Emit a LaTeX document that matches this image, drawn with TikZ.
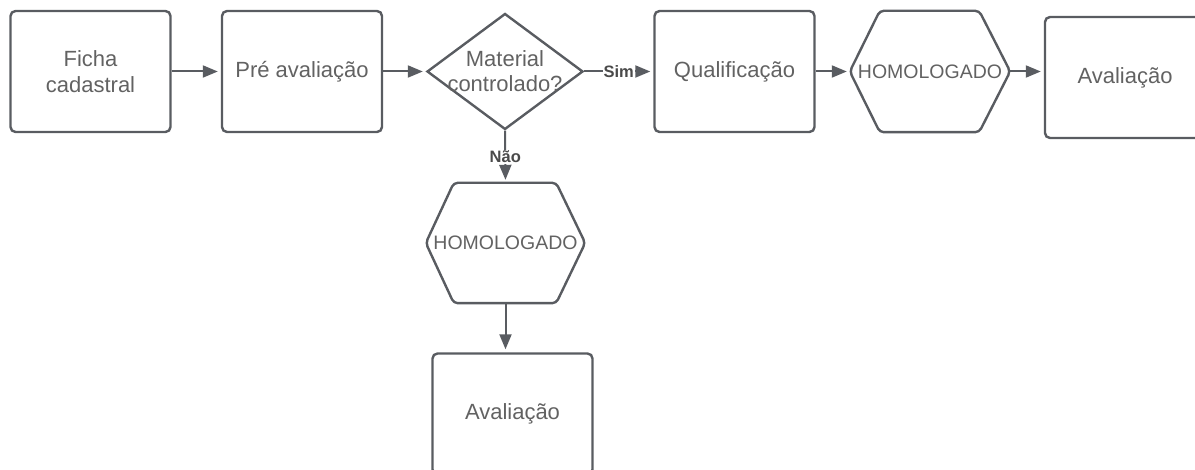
\documentclass[tikz,border=0pt]{standalone}
\usepackage{fontspec}
\setmainfont{Liberation Sans}
\usetikzlibrary{arrows.meta,shapes.geometric}
\definecolor{linegray}{HTML}{595C61}
\definecolor{textgray}{HTML}{626262}
\definecolor{labelgray}{HTML}{4A4A4A}
\begin{document}
\begin{tikzpicture}[x=1pt,y=-1pt,
  box/.style={draw=linegray,line width=2.4pt,rounded corners=5pt,minimum width=160pt,minimum height=121pt,
    align=center,text=textgray,font=\fontsize{22}{26}\selectfont},
  decision/.style={draw=linegray,line width=2.4pt,diamond,minimum width=156pt,minimum height=116pt,inner sep=0pt},
  hexbox/.style={minimum width=160pt,minimum height=121pt,inner sep=0pt,text=textgray,
    font=\fontsize{19.5}{23}\selectfont},
  outline/.style={draw=linegray,line width=2.4pt,rounded corners=4pt},
  flow/.style={draw=linegray,line width=2pt,-{Triangle[length=15pt,width=12pt]},shorten >=3pt},
  answer/.style={fill=white,inner sep=1pt,text=labelgray,font=\bfseries\fontsize{16.5}{19}\selectfont}]
\useasboundingbox (0,0) rectangle (1195,470);
\clip (0,0) rectangle (1195,470);
%\draw[help lines,step=50] (0,0) grid (1195,470);

\node (ficha) at (90.5,71.5) [box] {Ficha\\cadastral};
\node (pre) at (302,71.5) [box] {Pré avaliação};
\node (material) at (505,71.5) [decision,
  label={[align=center,text=textgray,font=\fontsize{22}{25}\selectfont]center:Material\\controlado?}] {};
\node (qualif) at (734.5,71.5) [box] {Qualificação};
\node (homol) at (930,71.5) [hexbox] {HOMOLOGADO};
\node (aval) at (1125,77.5) [box] {Avaliação};

\node (homolnao) at (505.5,243) [hexbox,minimum width=159pt,minimum height=120pt] {HOMOLOGADO};
\node (avalnao) at (512.5,414) [box] {Avaliação};

% hexagon outlines
\draw [outline] ([xshift=30pt]homol.north west) -- ([xshift=-31pt]homol.north east) -- (homol.east)
  -- ([xshift=-31pt]homol.south east) -- ([xshift=30pt]homol.south west) -- (homol.west) -- cycle;
\draw [outline] ([xshift=28pt]homolnao.north west) -- ([xshift=-29pt]homolnao.north east) -- (homolnao.east)
  -- ([xshift=-29pt]homolnao.south east) -- ([xshift=28pt]homolnao.south west) -- (homolnao.west) -- cycle;

\draw [flow] (ficha) -- (pre);
\draw [flow] (pre) -- (material);
\draw [flow] (material) -- node [answer] {Sim} (qualif);
\draw [flow] (qualif) -- (homol);
\draw [flow] (homol.east) -- (homol.east -| aval.west);
\draw [flow] (material.south) -- node [answer] {Não} (homolnao.north);
\draw [flow] (homolnao.south) -- (homolnao.south |- avalnao.north);
\end{tikzpicture}
\end{document}
